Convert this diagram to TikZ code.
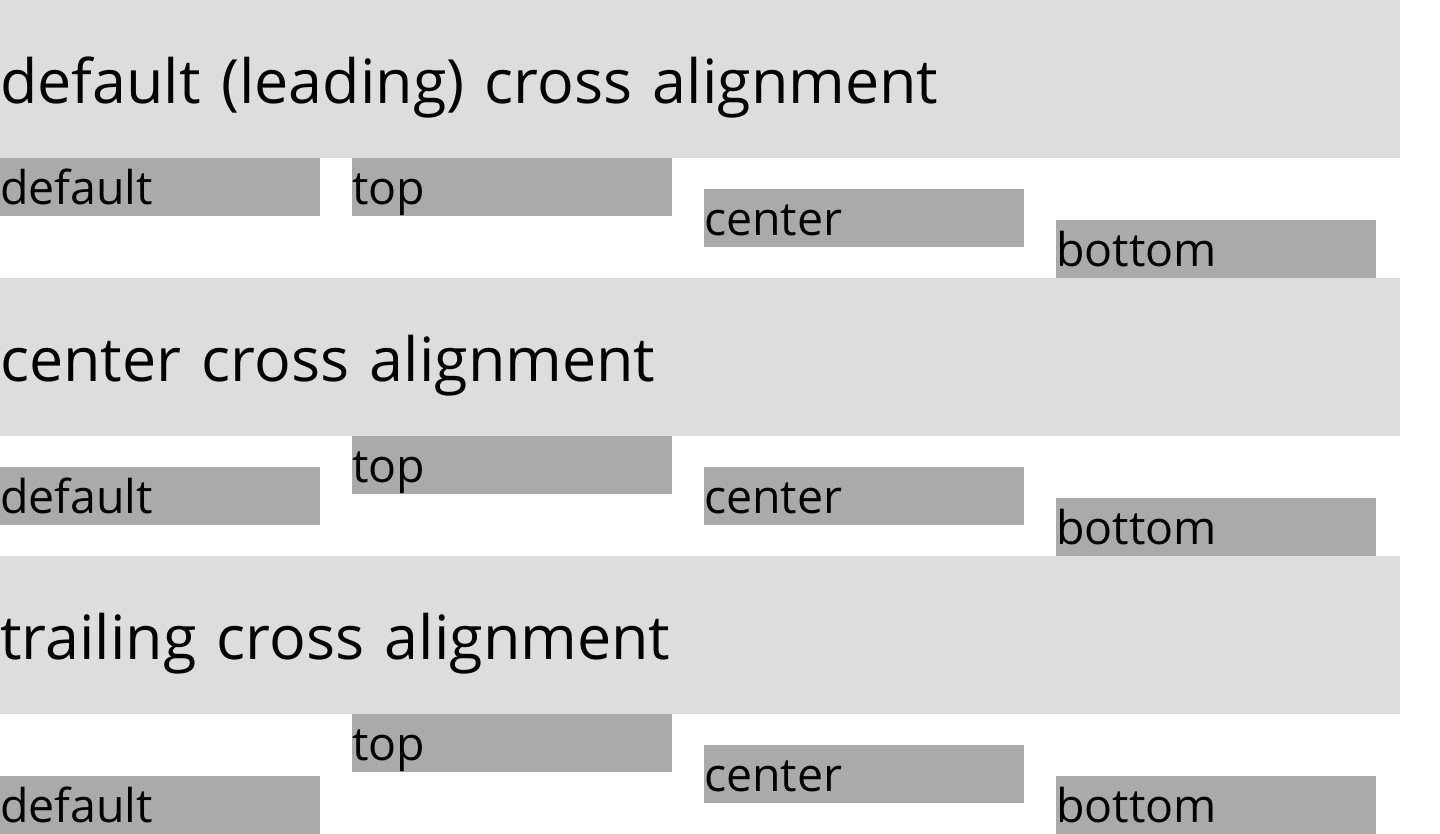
\documentclass[tikz,border=0pt]{standalone}
\usepackage{fontspec}
\setmainfont{Open Sans}
\definecolor{bandgray}{HTML}{DDDDDD}
\definecolor{itemgray}{HTML}{AAAAAA}
\tikzset{
  band/.style={anchor=north west,rectangle,fill=bandgray,inner sep=0pt,text width=1400pt,align=left,text height=103pt,text depth=55pt,font=\fontsize{61}{70}\selectfont},
  item/.style={anchor=north west,rectangle,fill=itemgray,inner sep=0pt,text width=320pt,align=left,text height=46pt,text depth=12pt,font=\fontsize{46.5}{56}\selectfont}
}
\begin{document}
\begin{tikzpicture}[x=1pt,y=-1pt]
 \useasboundingbox (0,0) rectangle (1440,834);
 % default (leading)
 \node[band] (leadingband) at (0,0) {default (leading) cross alignment};
 \node[item] (leadingdefault) at (0,158) {default};
 \node[item] (leadingtop) at (352,158) {top};
 \node[item] (leadingcenter) at (704,189) {center};
 \node[item] (leadingbottom) at (1056,220) {bottom};
 % center
 \node[band] (centerband) at (0,278) {center cross alignment};
 \node[item] (centerdefault) at (0,467) {default};
 \node[item] (centertop) at (352,436) {top};
 \node[item] (centercenter) at (704,467) {center};
 \node[item] (centerbottom) at (1056,498) {bottom};
 % trailing
 \node[band] (trailingband) at (0,556) {trailing cross alignment};
 \node[item] (trailingdefault) at (0,776) {default};
 \node[item] (trailingtop) at (352,714) {top};
 \node[item] (trailingcenter) at (704,745) {center};
 \node[item] (trailingbottom) at (1056,776) {bottom};
\end{tikzpicture}
\end{document}
